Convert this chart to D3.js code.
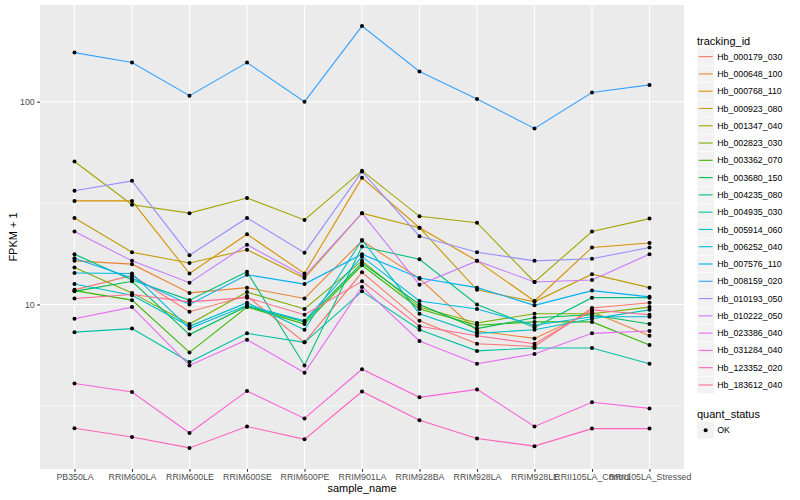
<!DOCTYPE html>
<html>
<head>
<meta charset="utf-8">
<script src="https://d3js.org/d3.v7.min.js"></script>
<style>
  body { margin: 0; background: #fff; }
  text { font-family: "Liberation Sans", Arial, sans-serif; }
</style>
</head>
<body>
<div id="chart-area"></div>
<script>
// sample names on the x axis
const samples = ["PB350LA", "RRIM600LA", "RRIM600LE", "RRIM600SE", "RRIM600PE", "RRIM901LA",
    "RRIM928BA", "RRIM928LA", "RRIM928LE", "RRII105LA_Control", "RRII105LA_Stressed"];

const trackingIds = ["Hb_000179_030", "Hb_000648_100", "Hb_000768_110", "Hb_000923_080", "Hb_001347_040",
    "Hb_002823_030", "Hb_003362_070", "Hb_003680_150", "Hb_004235_080", "Hb_004935_030",
    "Hb_005914_060", "Hb_006252_040", "Hb_007576_110", "Hb_008159_020", "Hb_010193_050",
    "Hb_010222_050", "Hb_023386_040", "Hb_031284_040", "Hb_123352_020", "Hb_183612_040"];

// ggplot default hue palette, 20 levels
const colors = ["#F8766D", "#EA8331", "#D89000", "#C09B00", "#A3A500", "#7CAE00", "#39B600", "#00BB4E",
    "#00BF7D", "#00C1A3", "#00BFC4", "#00BAE0", "#00B0F6", "#35A2FF", "#9590FF", "#C77CFF",
    "#E76BF3", "#FA62DB", "#FF62BC", "#FF6C91"];

// FPKM + 1, one value per sample
const hb000179 = [11.8, 13.9, 9.2, 11.0, 6.5, 14.4, 8.3, 6.4, 6.2, 9.6, 10.2];
const hb000648 = [16.4, 15.8, 11.4, 12.1, 10.7, 20.6, 13.4, 7.4, 6.8, 9.2, 7.0];
const hb000768 = [32.4, 32.4, 14.2, 22.2, 14.2, 42.1, 23.9, 16.4, 10.4, 19.1, 20.1];
const hb000923 = [26.7, 18.1, 16.0, 18.6, 13.5, 28.2, 23.9, 11.8, 10.3, 14.1, 12.1];
const hb001347 = [50.7, 31.0, 28.2, 33.5, 26.1, 45.7, 27.2, 25.3, 12.9, 22.9, 26.5];
const hb002823 = [15.2, 11.4, 8.0, 11.5, 9.5, 16.4, 9.7, 8.1, 9.0, 9.0, 9.7];
const hb003362 = [11.7, 10.5, 5.8, 9.7, 8.0, 15.6, 9.5, 7.9, 8.2, 8.2, 6.3];
const hb003680 = [11.6, 13.0, 7.1, 9.8, 8.2, 16.0, 10.0, 7.6, 8.6, 8.9, 8.0];
const hb004235 = [17.7, 13.2, 10.5, 14.5, 5.0, 19.3, 16.7, 10.0, 7.7, 10.8, 10.8];
const hb004935 = [7.3, 7.6, 5.2, 7.2, 6.5, 11.6, 7.5, 5.9, 6.1, 6.1, 5.1];
const hb005914 = [12.6, 11.1, 7.8, 10.2, 7.5, 20.8, 9.0, 7.2, 7.5, 8.5, 9.4];
const hb006252 = [14.3, 14.2, 7.6, 9.9, 8.3, 17.2, 10.4, 9.5, 7.9, 8.7, 8.7];
const hb007576 = [16.9, 13.5, 10.0, 14.0, 12.6, 17.7, 13.5, 12.1, 9.9, 11.7, 10.9];
const hb008159 = [174.6, 156, 107, 156, 100, 236, 141, 103, 73.8, 111, 121];
const hb010193 = [36.4, 40.7, 17.5, 26.7, 18.0, 45.2, 21.7, 18.1, 16.4, 16.8, 19.1];
const hb010222 = [22.9, 16.4, 12.8, 19.7, 13.8, 28.2, 12.5, 16.4, 12.9, 13.2, 17.7];
const hb023386 = [8.5, 9.7, 5.0, 6.7, 4.6, 12.2, 6.6, 5.1, 5.7, 7.2, 7.4];
const hb031284 = [4.07, 3.70, 2.32, 3.74, 2.74, 4.79, 3.48, 3.81, 2.50, 3.29, 3.07];
const hb123352 = [2.45, 2.22, 1.96, 2.50, 2.16, 3.72, 2.68, 2.18, 2.00, 2.44, 2.44];
const hb183612 = [10.7, 11.2, 10.3, 10.8, 8.9, 13.0, 7.8, 7.0, 6.4, 9.4, 8.9];

const seriesValues = [hb000179, hb000648, hb000768, hb000923, hb001347, hb002823, hb003362, hb003680,
    hb004235, hb004935, hb005914, hb006252, hb007576, hb008159, hb010193, hb010222,
    hb023386, hb031284, hb123352, hb183612];

const yBreaks = [10, 100];
const yMinorBreaks = [Math.sqrt(10), Math.sqrt(1000)];

const W = 800, H = 500;
const panel = { left: 40, right: 684, top: 5, bottom: 469 };

const svg = d3.select("#chart-area").append("svg")
    .attr("width", W)
    .attr("height", H);

const series = trackingIds.map((id, i) => ({
    id: id,
    color: colors[i],
    points: samples.map((s, j) => ({ sample: s, value: seriesValues[i][j] }))
}));

const x = d3.scalePoint()
    .domain(samples)
    .range([panel.left, panel.right])
    .padding(0.6);

// log scale with ggplot-like 5% expansion in log space
const allVals = seriesValues.flat();
const lo = Math.log10(d3.min(allVals)), hi = Math.log10(d3.max(allVals));
const pad = (hi - lo) * 0.05;
const y = d3.scaleLog()
    .domain([Math.pow(10, lo - pad), Math.pow(10, hi + pad)])
    .range([panel.bottom, panel.top]);

// panel background
svg.append("rect")
    .attr("x", panel.left)
    .attr("y", panel.top)
    .attr("width", panel.right - panel.left)
    .attr("height", panel.bottom - panel.top)
    .attr("fill", "#EBEBEB");

// grid
svg.selectAll(".minor-y").data(yMinorBreaks).enter().append("line")
    .attr("x1", panel.left).attr("x2", panel.right)
    .attr("y1", d => y(d)).attr("y2", d => y(d))
    .attr("stroke", "#fff").attr("stroke-width", 0.55);

svg.selectAll(".major-y").data(yBreaks).enter().append("line")
    .attr("x1", panel.left).attr("x2", panel.right)
    .attr("y1", d => y(d)).attr("y2", d => y(d))
    .attr("stroke", "#fff").attr("stroke-width", 1.1);

svg.selectAll(".major-x").data(samples).enter().append("line")
    .attr("x1", d => x(d)).attr("x2", d => x(d))
    .attr("y1", panel.top).attr("y2", panel.bottom)
    .attr("stroke", "#fff").attr("stroke-width", 1.1);

// lines
const line = d3.line()
    .x(d => x(d.sample))
    .y(d => y(d.value));

svg.append("g").selectAll("path").data(series).enter().append("path")
    .attr("d", d => line(d.points))
    .attr("fill", "none")
    .attr("stroke", d => d.color)
    .attr("stroke-width", 1.1);

// points
svg.append("g").selectAll("g").data(series).enter().append("g")
    .selectAll("circle").data(d => d.points).enter().append("circle")
    .attr("cx", d => x(d.sample))
    .attr("cy", d => y(d.value))
    .attr("r", 2)
    .attr("fill", "#000");

// axes
const xAxis = svg.append("g")
    .attr("transform", `translate(0, ${panel.bottom})`)
    .call(d3.axisBottom(x).tickSize(2.75).tickPadding(2.5));
const yAxis = svg.append("g")
    .attr("transform", `translate(${panel.left}, 0)`)
    .call(d3.axisLeft(y).tickValues(yBreaks).tickFormat(d3.format("d")).tickSize(2.75).tickPadding(2.5));

[xAxis, yAxis].forEach(a => {
    a.select(".domain").remove();
    a.selectAll(".tick line").attr("stroke", "#333").attr("stroke-width", 1.1);
    a.selectAll(".tick text")
        .attr("fill", "#4D4D4D")
        .style("font-size", "8.8px")
        .style("font-family", "'Liberation Sans', Arial, sans-serif");
});

// axis titles
svg.append("text")
    .attr("x", (panel.left + panel.right) / 2)
    .attr("y", 492)
    .attr("text-anchor", "middle")
    .style("font-size", "11px")
    .text("sample_name");

svg.append("text")
    .attr("transform", `translate(17, ${(panel.top + panel.bottom) / 2}) rotate(-90)`)
    .attr("text-anchor", "middle")
    .style("font-size", "11px")
    .text("FPKM + 1");

// legend: tracking_id
const keyH = 17.28, keyX = 697, firstKeyY = 48;
const legend = svg.append("g");
legend.append("text")
    .attr("x", keyX)
    .attr("y", 44.5)
    .style("font-size", "11px")
    .text("tracking_id");

const keys = legend.selectAll(".key").data(series).enter().append("g")
    .attr("transform", (d, i) => `translate(${keyX}, ${firstKeyY + i * keyH})`);
keys.append("rect")
    .attr("width", keyH).attr("height", keyH)
    .attr("fill", "#F2F2F2").attr("stroke", "#fff").attr("stroke-width", 0.5);
keys.append("line")
    .attr("x1", 1.7).attr("x2", keyH - 1.7)
    .attr("y1", keyH / 2).attr("y2", keyH / 2)
    .attr("stroke", d => d.color).attr("stroke-width", 1.1);
keys.append("text")
    .attr("x", keyH + 3)
    .attr("y", keyH / 2 + 3.1)
    .style("font-size", "8.8px")
    .text(d => d.id);

// legend: quant_status
const statusY = firstKeyY + trackingIds.length * keyH + 28;
legend.append("text")
    .attr("x", keyX)
    .attr("y", statusY - 4)
    .style("font-size", "11px")
    .text("quant_status");
const okKey = legend.append("g").attr("transform", `translate(${keyX}, ${statusY})`);
okKey.append("rect")
    .attr("width", keyH).attr("height", keyH)
    .attr("fill", "#F2F2F2").attr("stroke", "#fff").attr("stroke-width", 0.5);
okKey.append("circle")
    .attr("cx", keyH / 2).attr("cy", keyH / 2).attr("r", 2).attr("fill", "#000");
okKey.append("text")
    .attr("x", keyH + 3)
    .attr("y", keyH / 2 + 3.1)
    .style("font-size", "8.8px")
    .text("OK");
</script>
</body>
</html>
